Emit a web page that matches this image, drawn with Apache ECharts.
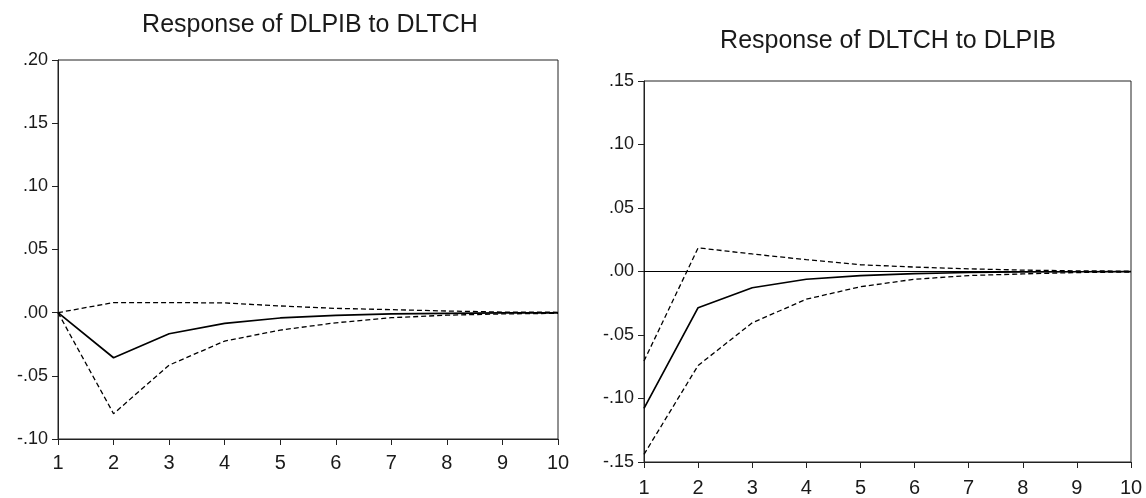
<!DOCTYPE html>
<html>
<head>
<meta charset="utf-8">
<script src="https://cdn.jsdelivr.net/npm/echarts@6/dist/echarts.min.js"></script>
<style>
html,body{margin:0;padding:0;background:#fff;}
#chart{width:1146px;height:498px;}
</style>
</head>
<body>
<div id="chart"></div>
<script>
// Periods
var periods = ['1','2','3','4','5','6','7','8','9','10'];

// Left panel: Response of DLPIB to DLTCH
var leftTitle = 'Response of DLPIB to DLTCH';
var leftResponse = [0.000, -0.0357, -0.0167, -0.0085, -0.0042, -0.0021, -0.0010, -0.0005, -0.0002, -0.0001];
var leftUpper    = [0.000, 0.0080, 0.0080, 0.0077, 0.0053, 0.0034, 0.0024, 0.0013, 0.0005, 0.0003];
var leftLower    = [0.000, -0.0800, -0.0415, -0.0225, -0.0138, -0.0080, -0.0040, -0.0020, -0.0010, -0.0005];

// Right panel: Response of DLTCH to DLPIB
var rightTitle = 'Response of DLTCH to DLPIB';
var rightResponse = [-0.1077, -0.0285, -0.0128, -0.0061, -0.0032, -0.0016, -0.0008, -0.0004, -0.0002, -0.0001];
var rightUpper    = [-0.0705, 0.0186, 0.0138, 0.0093, 0.0053, 0.0035, 0.0021, 0.0011, 0.0005, 0.0003];
var rightLower    = [-0.1440, -0.0740, -0.0404, -0.0218, -0.0120, -0.0061, -0.0032, -0.0019, -0.0008, -0.0004];

// Axis ranges
var leftYMin = -0.10, leftYMax = 0.20, rightYMin = -0.15, rightYMax = 0.15, yStep = 0.05;

var FONT = '"Liberation Sans", Arial, sans-serif';
var TXT = '#1a1a1a';

function fmt(v){
  var r = Math.round(v*100)/100;
  var s = Math.abs(r).toFixed(2).replace(/^0/, '');
  return (r < 0 ? '-' : '') + s;
}

function xAxis(idx, margin){
  return {
    type:'category', gridIndex: idx, data: periods, boundaryGap:false,
    axisLine:{show:true, onZero:false, lineStyle:{color:'#222', width:1}},
    axisTick:{show:true, length:6, lineStyle:{color:'#222'}},
    axisLabel:{color:TXT, fontFamily:FONT, fontSize:20, margin:margin},
    splitLine:{show:false}
  };
}
function yAxis(idx, min, max){
  return {
    type:'value', gridIndex: idx, min:min, max:max, interval:yStep,
    axisLine:{show:true, onZero:false, lineStyle:{color:'#222', width:1}},
    axisTick:{show:true, length:6, lineStyle:{color:'#222'}},
    axisLabel:{color:TXT, fontFamily:FONT, fontSize:18, margin:10, formatter: fmt},
    splitLine:{show:false}
  };
}
function line(xi, yi, data, dashed, extra){
  var s = {
    type:'line', xAxisIndex:xi, yAxisIndex:yi, data:data, symbol:'none', silent:true,
    lineStyle:{color:'#000', width: dashed ? 1.3 : 1.7, type: dashed ? [5,3] : 'solid'},
    z: dashed ? 3 : 4
  };
  if (extra) for (var k in extra) s[k] = extra[k];
  return s;
}

var chart = echarts.init(document.getElementById('chart'), null, {renderer:'canvas'});
chart.setOption({
  animation:false,
  backgroundColor:'#fff',
  grid:[
    {left:58, top:60, width:500, height:379, show:true, borderColor:'#222', borderWidth:1, backgroundColor:'transparent'},
    {left:644, top:81, width:487, height:382, show:true, borderColor:'#222', borderWidth:1, backgroundColor:'transparent'}
  ],
  xAxis:[xAxis(0, 14), xAxis(1, 16)],
  yAxis:[yAxis(0, leftYMin, leftYMax), yAxis(1, rightYMin, rightYMax)],
  graphic:[
    {type:'text', x:310, y:25, style:{text:leftTitle, font:'25px ' + FONT, fill:TXT, textAlign:'center', textVerticalAlign:'middle'}},
    {type:'text', x:888, y:41, style:{text:rightTitle, font:'25px ' + FONT, fill:TXT, textAlign:'center', textVerticalAlign:'middle'}}
  ],
  series:[
    line(0,0,leftUpper,true),
    line(0,0,leftLower,true),
    line(0,0,leftResponse,false),
    line(1,1,rightUpper,true),
    line(1,1,rightLower,true),
    line(1,1,rightResponse,false,{
      markLine:{silent:true, symbol:'none', label:{show:false},
        lineStyle:{color:'#000', width:1, type:'solid'}, data:[{yAxis:0}]}
    })
  ]
});
</script>
</body>
</html>
